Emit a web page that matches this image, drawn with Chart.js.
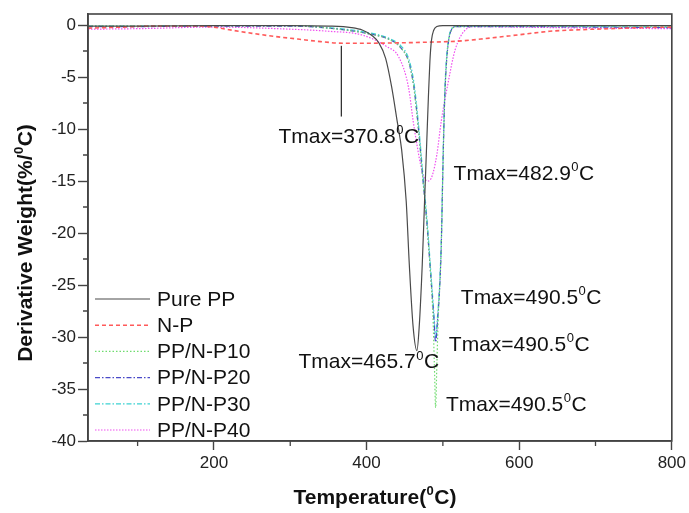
<!DOCTYPE html>
<html>
<head>
<meta charset="utf-8">
<script src="https://cdn.jsdelivr.net/npm/chart.js@4.4.1/dist/chart.umd.min.js"></script>
<style>
  html, body { margin: 0; padding: 0; background: #fff; }
  #wrap { width: 689px; height: 513px; }
</style>
</head>
<body>
<div id="wrap"><canvas id="dtg" width="689" height="513"></canvas></div>
<script>
// temperature (x) and derivative weight (y)
const ppX = [35, 100, 200, 300, 350, 380, 395, 407, 416, 425, 433, 440, 446, 452, 456, 461, 466, 469, 473, 476, 479, 481, 483, 485, 488, 492, 500, 600, 700, 800];
const ppY = [-0.1, -0.1, -0.05, -0.05, -0.1, -0.25, -0.5, -1.0, -1.7, -3.2, -6, -9.2, -12, -17, -23, -29, -31.3, -29, -23, -17, -11, -7, -3.5, -1.5, -0.5, -0.15, -0.05, -0.05, -0.05, -0.05];

const npX = [35, 80, 120, 180, 200, 220, 250, 280, 310, 340, 370, 400, 440, 480, 520, 550, 580, 610, 640, 680, 720, 760, 800];
const npY = [-0.3, -0.2, -0.1, -0.1, -0.2, -0.45, -0.8, -1.1, -1.35, -1.6, -1.75, -1.75, -1.72, -1.65, -1.55, -1.35, -1.1, -0.85, -0.6, -0.45, -0.35, -0.25, -0.2];

const p10X = [35, 100, 200, 300, 350, 400, 430, 445, 455, 462, 468, 474, 479, 484, 487, 489, 490.5, 492, 494, 496, 498, 500, 502, 504, 507, 511, 518, 600, 700, 800];
const p10Y = [-0.1, -0.1, -0.05, -0.05, -0.3, -0.8, -1.4, -2.2, -3.5, -6, -10, -15, -19, -24, -28, -33, -36.8, -33, -28, -25, -21, -14, -8, -4.5, -1.8, -0.5, -0.15, -0.1, -0.1, -0.1];

const p20X = [35, 100, 200, 300, 350, 400, 430, 445, 455, 462, 468, 474, 479, 484, 488, 490.5, 493, 496, 498, 500, 502, 504, 507, 511, 518, 600, 700, 800];
const p20Y = [-0.15, -0.15, -0.1, -0.1, -0.3, -0.8, -1.4, -2.2, -3.5, -6, -10, -15, -19, -24, -28, -30.5, -28.5, -25, -21, -14, -8, -4.5, -1.8, -0.5, -0.15, -0.15, -0.2, -0.25];

const p30X = [35, 100, 200, 300, 350, 400, 430, 445, 455, 462, 468, 474, 479, 484, 488, 490.5, 493, 496, 498, 500, 502, 504, 507, 511, 518, 600, 700, 800];
const p30Y = [-0.1, -0.1, -0.05, -0.05, -0.25, -0.7, -1.3, -2.0, -3.2, -5.5, -9.5, -14.5, -18.5, -23.5, -27.5, -30, -28, -24.5, -20.5, -13.5, -7.5, -4, -1.6, -0.4, -0.1, -0.1, -0.15, -0.2];

const p40X = [35, 100, 200, 300, 350, 394, 427, 442, 455, 461, 466, 471, 475, 481, 486, 492, 498, 507, 516, 529, 542, 600, 700, 800];
const p40Y = [-0.4, -0.35, -0.2, -0.4, -0.6, -0.96, -2.1, -3.05, -6, -9.2, -11.5, -13.5, -14.6, -15, -14.5, -12.5, -9.2, -5.5, -2.4, -0.5, -0.15, -0.2, -0.3, -0.35];

const seriesNames = ['Pure PP', 'N-P', 'PP/N-P10', 'PP/N-P20', 'PP/N-P30', 'PP/N-P40'];

const xTicks = [200, 400, 600, 800];
const xMinor = [100, 300, 500, 700];
const yTicks = [0, -5, -10, -15, -20, -25, -30, -35, -40];
const yMinor = [-2.5, -7.5, -12.5, -17.5, -22.5, -27.5, -32.5, -37.5];

// Tmax labels: text, left-edge temperature, vertical centre
const annText = ['Tmax=370.8', 'Tmax=482.9', 'Tmax=490.5', 'Tmax=490.5', 'Tmax=465.7', 'Tmax=490.5'];
const annX = [284.6, 514, 523.5, 507.8, 310.7, 504];
const annY = [-10.6, -14.2, -26.1, -30.6, -32.3, -36.4];

// pointer line under the N-P peak
const markX = [367, 367];
const markY = [-2.0, -8.8];

const FONT = '"Liberation Sans", Arial, Helvetica, sans-serif';

function pts(xs, ys) {
    return xs.map((x, i) => ({ x: x, y: ys[i] }));
}

const styles = [
    { color: '#4a4a4a', dash: [], width: 1.2 },
    { color: '#ff5a5a', dash: [4, 3], width: 1.6 },
    { color: '#6fdc6f', dash: [1.5, 2], width: 1.2 },
    { color: '#4a4ac8', dash: [5, 2, 1.5, 2], width: 1.2 },
    { color: '#3cd2d2', dash: [5, 2, 1.5, 2], width: 1.2 },
    { color: '#f050f0', dash: [1.5, 1.5], width: 1.2 }
];

const seriesData = [pts(ppX, ppY), pts(npX, npY), pts(p10X, p10Y), pts(p20X, p20Y), pts(p30X, p30Y), pts(p40X, p40Y)];

function supText(ctx, pre, sup, post, size, bold) {
    // returns a drawer and the total width for text with a superscript
    const f = s => (bold ? 'bold ' : '') + s + 'px ' + FONT;
    ctx.font = f(size);
    const w1 = ctx.measureText(pre).width;
    const w3 = ctx.measureText(post).width;
    ctx.font = f(size * 0.62);
    const w2 = ctx.measureText(sup).width;
    const total = w1 + w2 + w3 + 1;
    return {
        width: total,
        draw(x, base) {
            ctx.textAlign = 'left';
            ctx.textBaseline = 'alphabetic';
            ctx.font = f(size);
            ctx.fillText(pre, x, base);
            ctx.font = f(size * 0.62);
            ctx.fillText(sup, x + w1 + 0.5, base - size * 0.42);
            ctx.font = f(size);
            ctx.fillText(post, x + w1 + w2 + 1, base);
        }
    };
}

const decorations = {
    id: 'decorations',
    afterDatasetsDraw(chart) {
        const ctx = chart.ctx;
        const xs = chart.scales.x, ys = chart.scales.y;
        ctx.save();
        // pointer line
        ctx.strokeStyle = '#333';
        ctx.lineWidth = 1.3;
        ctx.beginPath();
        ctx.moveTo(xs.getPixelForValue(markX[0]), ys.getPixelForValue(markY[0]));
        ctx.lineTo(xs.getPixelForValue(markX[1]), ys.getPixelForValue(markY[1]));
        ctx.stroke();
        // Tmax labels
        ctx.fillStyle = '#111';
        annText.forEach((t, i) => {
            const s = supText(ctx, t, '0', 'C', 21, false);
            s.draw(xs.getPixelForValue(annX[i]), ys.getPixelForValue(annY[i]) + 7.5);
        });
        ctx.restore();
    },
    afterDraw(chart) {
        const ctx = chart.ctx;
        const a = chart.chartArea;
        const xs = chart.scales.x, ys = chart.scales.y;
        ctx.save();
        // frame
        ctx.strokeStyle = '#444';
        ctx.lineWidth = 1.6;
        ctx.strokeRect(a.left, a.top, a.right - a.left, a.bottom - a.top);
        // minor ticks, outward
        ctx.lineWidth = 1.3;
        ctx.beginPath();
        xMinor.forEach(v => {
            const px = xs.getPixelForValue(v);
            ctx.moveTo(px, a.bottom);
            ctx.lineTo(px, a.bottom + 5);
        });
        yMinor.forEach(v => {
            const py = ys.getPixelForValue(v);
            ctx.moveTo(a.left, py);
            ctx.lineTo(a.left - 5, py);
        });
        ctx.stroke();

        // legend inside the plot
        const rowTop = 299, rowGap = 26.2;
        seriesNames.forEach((name, i) => {
            const y = rowTop + i * rowGap;
            const st = styles[i];
            ctx.strokeStyle = st.color;
            ctx.lineWidth = st.width;
            ctx.setLineDash(st.dash);
            ctx.beginPath();
            ctx.moveTo(95, y);
            ctx.lineTo(150, y);
            ctx.stroke();
            ctx.setLineDash([]);
            ctx.fillStyle = '#111';
            ctx.font = '21px ' + FONT;
            ctx.textAlign = 'left';
            ctx.textBaseline = 'middle';
            ctx.fillText(name, 157, y + 1);
        });

        // axis titles
        ctx.fillStyle = '#111';
        const xt = supText(ctx, 'Temperature(', '0', 'C)', 21, true);
        xt.draw(375 - xt.width / 2, 504);
        ctx.translate(24, 243);
        ctx.rotate(-Math.PI / 2);
        const yt = supText(ctx, 'Derivative Weight(%/', '0', 'C)', 21, true);
        yt.draw(-yt.width / 2, 7.5);
        ctx.restore();
    }
};

new Chart(document.getElementById('dtg'), {
    type: 'line',
    data: {
        datasets: seriesNames.map((name, i) => ({
            label: name,
            data: seriesData[i],
            borderColor: styles[i].color,
            borderDash: styles[i].dash,
            borderWidth: styles[i].width,
            pointRadius: 0,
            fill: false,
            cubicInterpolationMode: 'monotone'
        }))
    },
    options: {
        responsive: false,
        animation: false,
        layout: { padding: { top: 14, right: 15, left: 0, bottom: 0 } },
        plugins: {
            legend: { display: false },
            tooltip: { enabled: false }
        },
        scales: {
            x: {
                type: 'linear',
                min: 35,
                max: 800,
                afterBuildTicks: s => { s.ticks = xTicks.map(v => ({ value: v })); },
                afterFit: s => { s.height = 72; },
                grid: { drawOnChartArea: false, tickLength: 9, tickColor: '#444', tickWidth: 1.4 },
                border: { color: '#444', width: 1.6 },
                ticks: {
                    padding: 3,
                    color: '#222',
                    font: { family: FONT, size: 17 },
                    callback: v => String(v),
                    maxRotation: 0
                }
            },
            y: {
                min: -40,
                max: 1.06,
                afterBuildTicks: s => { s.ticks = yTicks.map(v => ({ value: v })); },
                afterFit: s => { s.width = 88; },
                grid: { drawOnChartArea: false, tickLength: 10, tickColor: '#444', tickWidth: 1.4 },
                border: { color: '#444', width: 1.6 },
                ticks: {
                    padding: 2,
                    color: '#222',
                    font: { family: FONT, size: 17 },
                    callback: v => String(v)
                }
            }
        }
    },
    plugins: [decorations]
});
</script>
</body>
</html>
